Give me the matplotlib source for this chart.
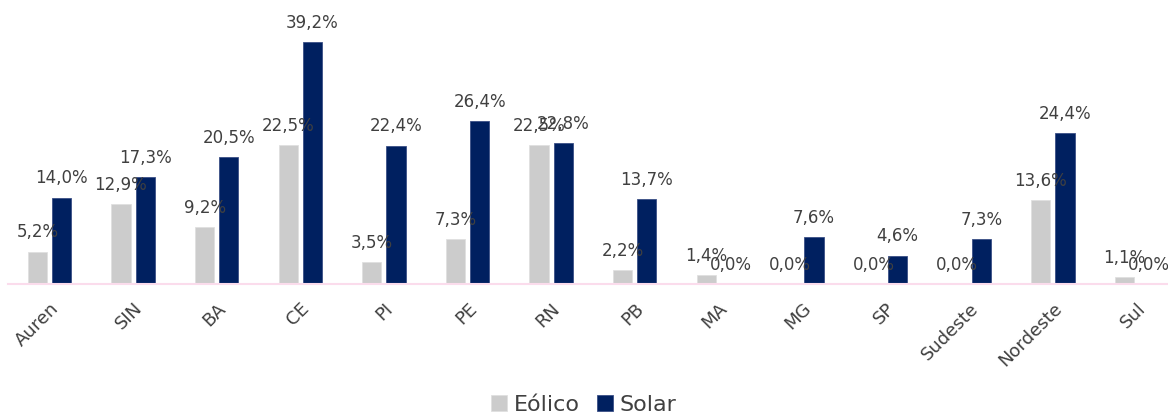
import matplotlib
matplotlib.use("Agg")
import matplotlib.pyplot as plt
import numpy as np

categories = ["Auren", "SIN", "BA", "CE", "PI", "PE", "RN", "PB", "MA", "MG", "SP",
              "Sudeste", "Nordeste", "Sul"]
eolico = [5.2, 12.9, 9.2, 22.5, 3.5, 7.3, 22.5, 2.2, 1.4, 0.0, 0.0, 0.0, 13.6, 1.1]
solar = [14.0, 17.3, 20.5, 39.2, 22.4, 26.4, 22.8, 13.7, 0.0, 7.6, 4.6, 7.3, 24.4, 0.0]
series_names = ["Eólico", "Solar"]

plt.rcParams['font.family'] = ['DejaVu Sans']
fig = plt.figure(figsize=(11.68, 4.16), dpi=100)
ax = fig.add_axes([7.7 / 1168, 132 / 416, 1170.5 / 1168, 284 / 416])

x = np.arange(len(categories))
w = 0.23
off = 0.145
c_e = "#cccccc"
c_s = "#002060"
b1 = ax.bar(x - off, eolico, w, color=c_e, edgecolor="#e0e0e0", linewidth=0.6, label=series_names[0])
b2 = ax.bar(x + off, solar, w, color=c_s, edgecolor="#3a4f86", linewidth=0.6, label=series_names[1])

lab_col = "#404040"
for bars, vals in ((b1, eolico), (b2, solar)):
    for r, v in zip(bars, vals):
        ax.annotate(f"{v:.1f}%".replace(".", ","),
                    (r.get_x() + r.get_width() / 2, r.get_height()),
                    xytext=(0, 7.5), textcoords="offset points",
                    ha="center", va="bottom", fontsize=12, color=lab_col)

ax.set_xlim(-0.5, len(categories) - 0.5)
ax.set_ylim(0, 46)
ax.set_yticks([])
for s in ("top", "right", "left"):
    ax.spines[s].set_visible(False)
ax.spines["bottom"].set_color("#fbdcec")
ax.spines["bottom"].set_linewidth(1.5)
ax.set_xticks(x)
ax.set_xticklabels(categories, rotation=45, ha="right", rotation_mode="anchor",
                   fontsize=13, color=lab_col)
ax.tick_params(axis="x", length=0, pad=11)

fig.legend(handles=[b1, b2], labels=series_names, loc="lower center",
           bbox_to_anchor=(0.5, -0.045), ncol=2, frameon=False, fontsize=16,
           handlelength=0.7, handleheight=0.7, handletextpad=0.3, columnspacing=0.8,
           labelcolor=lab_col)

fig.savefig("out.png", dpi=100)
